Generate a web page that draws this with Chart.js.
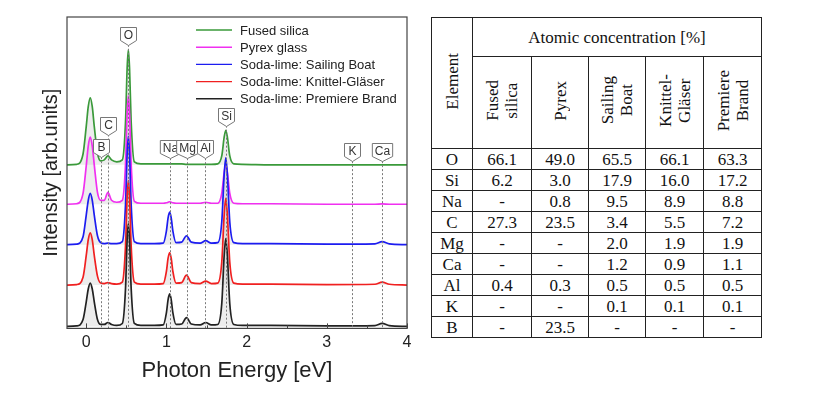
<!DOCTYPE html>
<html>
<head>
<meta charset="utf-8">
<script src="https://cdn.jsdelivr.net/npm/chart.js@4.4.1/dist/chart.umd.min.js"></script>
<style>
  body { margin: 0; background: #fff; width: 824px; height: 394px; overflow: hidden; }
  #wrap { position: absolute; left: 0; top: 0; width: 420px; height: 394px; }
  #tbl { position: absolute; left: 431px; top: 17px; border-collapse: collapse;
         font-family: "Liberation Serif", "Times New Roman", serif; font-size: 17px; color: #111; }
  #tbl td { border: 1.5px solid #222; text-align: center; padding: 0; line-height: 19px; }
  .rot { writing-mode: vertical-rl; transform: rotate(180deg); display: inline-block; line-height: 19px; }
</style>
</head>
<body>
<div id="wrap"><canvas id="myChart" width="420" height="394"></canvas></div>
<table id="tbl"></table>
<script>
// photon energy sampling points [eV]
let energy=[-0.24,-0.12,-0.04,0.0,0.025,0.05,0.075,0.1,0.14,0.18,
            0.225,0.27,0.315,0.38,0.45,0.49,0.51,0.525,0.54,0.56,
            0.6,0.68,0.85,0.96,1.0,1.02,1.04,1.06,1.08,1.12,
            1.19,1.25,1.31,1.42,1.49,1.56,1.64,1.69,1.72,1.74,
            1.76,1.79,1.84,1.95,2.3,3.0,3.6,3.69,3.78,4.0];

// intensities (arb. units, above each baseline)
let fusedSilica=[0,0.5,11,39,59,68,59,39,12,4,
                 5,9,5,3,5,44,98,117,98,44,
                 3,1,1,1,1,1,1,1,1,1,
                 1,0.5,0.5,0.5,0.5,0.5,1,9,28,35,
                 28,9,1,0.5,0,0,0,0,0,0];
let pyrexGlass=[0,0.5,11,39,59,68,59,40,12,4,
                4,12,4,2,4,41,92,110,92,41,
                3,1,1,1,1.5,2,2.5,2,1.5,1,
                1,1,1,1,2,1,1,11,32,40,
                32,11,1,0.5,0.5,0,0,0.3,0,0];
let sailingBoat=[0,0.5,8,30,45,52,45,30,9,2,
                 1,1.5,1,1,3,41,92,110,92,41,
                 3,1,1,1.5,14,27,33,27,14,2,
                 2.5,9,2.5,1.5,4,1.5,2,23,71,88,
                 71,23,2,1,1,0.5,0.8,3,0.8,0];
let knittelGlaser=[0,0.5,8,30,46,53,46,30,9,2,
                   1.5,2.5,1.5,1,3,40,89,106,89,40,
                   3,1,1,1.5,14,27,33,27,14,2,
                   2.5,10,2.5,1.5,4,1.5,2,23,71,88,
                   71,23,2,1,1,0.5,0.8,3,0.8,0];
let premiereBrand=[0,0.5,7,25,38,44,38,25,7,2,
                   2,4,2,1,3,39,88,104,88,39,
                   3,1,1,1.5,14,27,33,27,14,2,
                   2.5,9,2.5,1.5,4,1.5,2,23,72,89,
                   72,23,2,1,1,0.5,0.8,3,0.8,0];

let seriesNames=["Fused silica","Pyrex glass","Soda-lime: Sailing Boat","Soda-lime: Knittel-Gläser","Soda-lime: Premiere Brand"];
let seriesValues=[fusedSilica,pyrexGlass,sailingBoat,knittelGlaser,premiereBrand];
let seriesOffsets=[166,126,85,44,2];
let seriesColors=["#3a9a3a","#f030f0","#1c1cf0","#f02020","#222222"];

// emission lines
let lineNames=["B","C","O","Na","Mg","Al","Si","K","Ca"];
let lineEnergies=[0.183,0.277,0.525,1.041,1.254,1.487,1.740,3.313,3.690];
let lineLabelLevel=[192,215,306,191,191,191,224,188,188];

// table
let tableHeaders=["Fused<br>silica","Pyrex","Sailing<br>Boat","Knittel-<br>Gläser","Premiere<br>Brand"];
let tableElements=["O","Si","Na","C","Mg","Ca","Al","K","B"];
let colFused=["66.1","6.2","-","27.3","-","-","0.4","-","-"];
let colPyrex=["49.0","3.0","0.8","23.5","-","-","0.3","-","23.5"];
let colSailing=["65.5","17.9","9.5","3.4","2.0","1.2","0.5","0.1","-"];
let colKnittel=["66.1","16.0","8.9","5.5","1.9","0.9","0.5","0.1","-"];
let colPremiere=["63.3","17.2","8.8","7.2","1.9","1.1","0.5","0.1","-"];

let buildTable=()=>{
    let cols=[colFused,colPyrex,colSailing,colKnittel,colPremiere];
    let widths=[41,59,57,57,58,58];
    let html='<colgroup>'+widths.map(w=>'<col style="width:'+w+'px">').join('')+'</colgroup>';
    html+='<tr style="height:39px"><td rowspan="2"><span class="rot">Element</span></td><td colspan="5">Atomic concentration [%]</td></tr>';
    html+='<tr style="height:92px">'+tableHeaders.map(h=>'<td><span class="rot">'+h+'</span></td>').join('')+'</tr>';
    tableElements.forEach((el,i)=>{
        html+='<tr style="height:21px"><td>'+el+'</td>'+cols.map(c=>'<td>'+c[i]+'</td>').join('')+'</tr>';
    });
    document.getElementById("tbl").innerHTML=html;
}
buildTable();

// legend, emission line markers, inward ticks and frame
let decorations={
    id:'decorations',
    afterDatasetsDraw(chart){
        const ctx=chart.ctx;
        const area=chart.chartArea;
        const xs=chart.scales.x, ys=chart.scales.y;
        ctx.save();
        // dotted lines
        ctx.strokeStyle='#7a7a7a';
        ctx.lineWidth=1;
        ctx.setLineDash([2,2]);
        lineEnergies.forEach((e,i)=>{
            let x=Math.round(xs.getPixelForValue(e))+0.5;
            let top=ys.getPixelForValue(lineLabelLevel[i])+18;
            ctx.beginPath();
            ctx.moveTo(x,top);
            ctx.lineTo(x,area.bottom);
            ctx.stroke();
        });
        ctx.setLineDash([]);
        // label boxes
        ctx.font='12px "Liberation Sans", Arial, sans-serif';
        ctx.textAlign='center';
        ctx.textBaseline='middle';
        lineNames.forEach((n,i)=>{
            let x=Math.round(xs.getPixelForValue(lineEnergies[i]))+0.5;
            let top=Math.round(ys.getPixelForValue(lineLabelLevel[i]))+0.5;
            let hw=Math.max(8,(ctx.measureText(n).width+5)/2);
            ctx.beginPath();
            ctx.moveTo(x-hw,top);
            ctx.lineTo(x+hw,top);
            ctx.lineTo(x+hw,top+13);
            ctx.lineTo(x,top+18);
            ctx.lineTo(x-hw,top+13);
            ctx.closePath();
            ctx.fillStyle='#fff';
            ctx.fill();
            ctx.strokeStyle='#777';
            ctx.stroke();
            ctx.fillStyle='#333';
            ctx.fillText(n,x,top+8);
        });
        // legend
        ctx.font='13px "Liberation Sans", Arial, sans-serif';
        ctx.textAlign='left';
        seriesNames.forEach((n,i)=>{
            let y=30+i*17.2;
            ctx.strokeStyle=seriesColors[i];
            ctx.lineWidth=1.4;
            ctx.beginPath();
            ctx.moveTo(196,y);
            ctx.lineTo(232,y);
            ctx.stroke();
            ctx.fillStyle='#222';
            ctx.fillText(n,240,y+1);
        });
        // frame
        ctx.strokeStyle='#444';
        ctx.lineWidth=1.2;
        ctx.strokeRect(area.left,area.top,area.right-area.left,area.bottom-area.top);
        // inward ticks
        ctx.lineWidth=1;
        for(let t=0;t<=4;t+=0.5){
            let x=Math.round(xs.getPixelForValue(t))+0.5;
            let len=(t%1===0)?5:3;
            ctx.beginPath();
            ctx.moveTo(x,area.bottom);
            ctx.lineTo(x,area.bottom-len);
            ctx.stroke();
        }
        ctx.restore();
    }
};

let displayGraph=()=>{
    const ctx=document.getElementById('myChart').getContext('2d');
    const datasets=seriesNames.map((name,i)=>({
        label: name,
        data: energy.map((e,k)=>({x: e, y: seriesValues[i][k]+seriesOffsets[i]})),
        borderColor: seriesColors[i],
        borderWidth: 1.7,
        backgroundColor: 'rgba(190,190,190,0.28)',
        fill: {value: seriesOffsets[i]},
        pointRadius: 0,
        cubicInterpolationMode: 'monotone',
        order: 5-i
    }));
    new Chart(ctx,{
        type: 'line',
        data: {datasets: datasets},
        options: {
            responsive: false,
            animation: false,
            layout: {padding: {left: 35, right: 13, top: 17, bottom: 8}},
            plugins: {legend: {display: false}, tooltip: {enabled: false}},
            scales: {
                x: {
                    type: 'linear', min: -0.24, max: 4,
                    grid: {display: false, drawTicks: false},
                    border: {display: false},
                    ticks: {stepSize: 1, includeBounds: false, padding: 5, color: '#222',
                            font: {size: 16, family: '"Liberation Sans", Arial, sans-serif'}},
                    title: {display: true, text: 'Photon Energy [eV]', color: '#222', padding: {top: 0, bottom: 2},
                            font: {size: 22, family: '"Liberation Sans", Arial, sans-serif'}}
                },
                y: {
                    min: 0, max: 316,
                    grid: {display: false, drawTicks: false},
                    border: {display: false},
                    ticks: {display: false},
                    title: {display: true, text: 'Intensity [arb.units]', color: '#222', padding: 4,
                            font: {size: 20, family: '"Liberation Sans", Arial, sans-serif'}}
                }
            }
        },
        plugins: [decorations]
    });
}
displayGraph();
</script>
</body>
</html>
